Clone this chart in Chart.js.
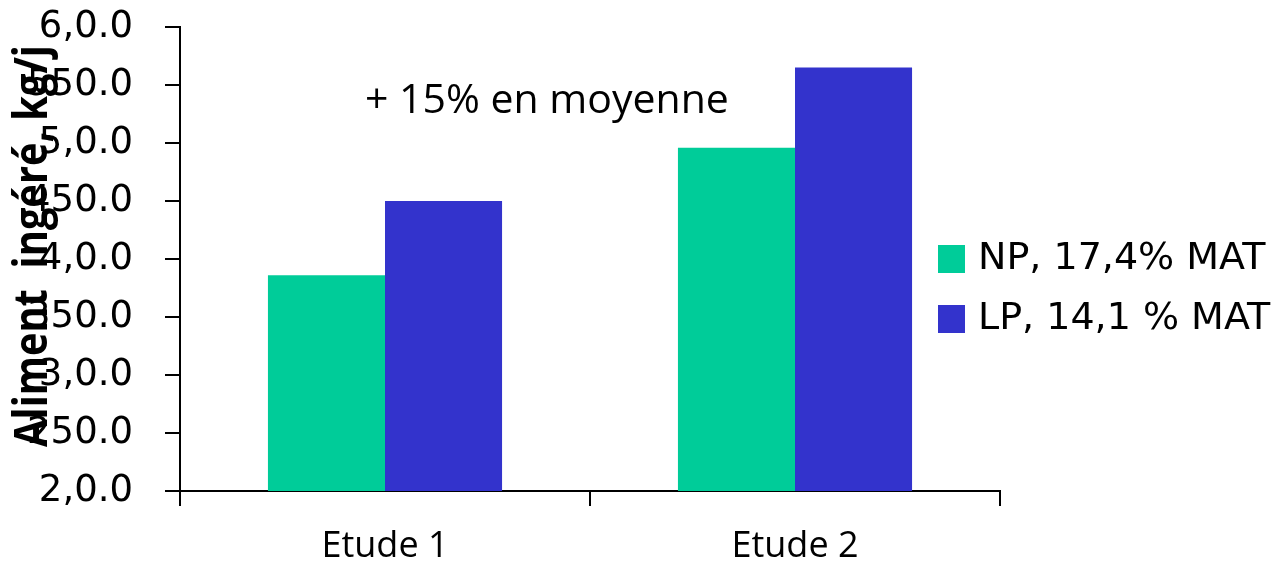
<!DOCTYPE html>
<html>
<head>
<meta charset="utf-8">
<script src="https://cdn.jsdelivr.net/npm/chart.js@4"></script>
<style>
  html, body { margin: 0; padding: 0; background: #fff; }
  #wrap { width: 1285px; height: 564px; }
</style>
</head>
<body>
<div id="wrap"><canvas id="chart" width="1285" height="564"></canvas></div>
<script>
// data
var categories = ['Etude 1', 'Etude 2'];
var npValues = [3.86, 4.96];
var lpValues = [4.50, 5.65];
var seriesNames = ['NP, 17,4% MAT', 'LP, 14,1 % MAT'];
var yTickLabels = ['2,0.0', '250.0', '3,0.0', '350.0', '4,0.0', '450.0', '5,0.0', '550.0', '6,0.0'];
var yTitle = 'Aliment  ingéré, kg/j';
var note = '+ 15% en moyenne';

// legend + note + y title drawn by hand so they can sit where the original has them
var extras = {
    id: 'extras',
    afterDraw: function(chart) {
        var ctx = chart.ctx;
        ctx.save();

        // legend
        ctx.textBaseline = 'middle';
        ctx.textAlign = 'left';
        ctx.font = '38px "DejaVu Sans"';
        chart.data.datasets.forEach(function(ds, i) {
            var cy = 259 + i * 60;
            ctx.fillStyle = ds.backgroundColor;
            ctx.fillRect(938, cy - 14, 27, 28);
            ctx.fillStyle = '#000';
            ctx.fillText(ds.label, 978, cy);
        });

        // note
        ctx.textBaseline = 'alphabetic';
        ctx.font = '41px "Open Sans"';
        ctx.fillText(note, 365, 113);

        // y title, on top of the tick labels like the original
        ctx.translate(34, 246);
        ctx.rotate(-Math.PI / 2);
        ctx.textAlign = 'center';
        ctx.textBaseline = 'middle';
        ctx.font = 'bold 47px "Open Sans"';
        var w = ctx.measureText(yTitle).width;
        ctx.scale(402 / w, 1);
        ctx.fillText(yTitle, 0, 0);
        ctx.restore();
    }
};

var ctx = document.getElementById('chart').getContext('2d');
new Chart(ctx, {
    type: 'bar',
    data: {
        labels: categories,
        datasets: [{
            label: seriesNames[0],
            data: npValues,
            backgroundColor: '#00CC99',
            borderWidth: 0
        }, {
            label: seriesNames[1],
            data: lpValues,
            backgroundColor: '#3333CC',
            borderWidth: 0
        }]
    },
    options: {
        responsive: false,
        animation: false,
        layout: { padding: { top: 0, right: 285, left: 0, bottom: 0 } },
        plugins: {
            legend: { display: false },
            tooltip: { enabled: false }
        },
        datasets: {
            bar: { categoryPercentage: 0.571, barPercentage: 1.0 }
        },
        scales: {
            x: {
                grid: { offset: true, drawOnChartArea: false, drawTicks: true, tickLength: 15, color: '#000', lineWidth: 2 },
                border: { display: true, color: '#000', width: 2 },
                ticks: { color: '#000', font: { family: 'Open Sans', size: 36 }, padding: 19 },
                afterFit: function(scale) {
                    scale.height = 73;
                    scale.paddingLeft = 0;
                    scale.paddingRight = 0;
                }
            },
            y: {
                min: 2,
                max: 6,
                grid: { drawOnChartArea: false, drawTicks: true, tickLength: 15, color: '#000', lineWidth: 2 },
                border: { display: true, color: '#000', width: 2 },
                ticks: {
                    stepSize: 0.5,
                    color: '#000',
                    padding: 32,
                    font: { family: 'DejaVu Sans', size: 37 },
                    callback: function(v, i) { return yTickLabels[i]; }
                },
                afterFit: function(scale) {
                    scale.width = 180;
                    scale.paddingTop = 27;
                    scale.paddingBottom = 0;
                }
            }
        }
    },
    plugins: [extras]
});
</script>
</body>
</html>
